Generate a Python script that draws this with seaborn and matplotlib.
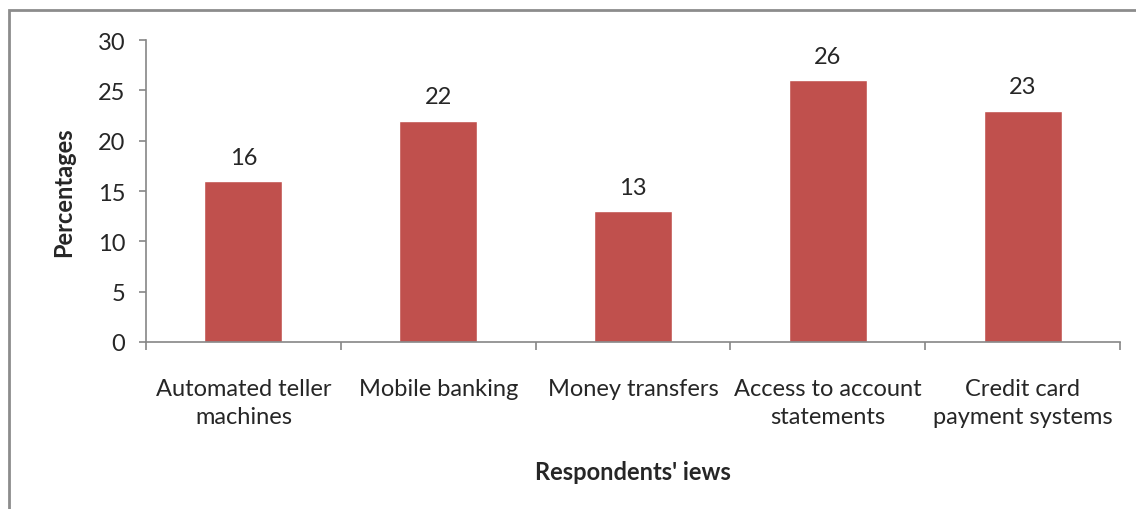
import matplotlib.pyplot as plt
import matplotlib.patches as mpatches
import seaborn as sns
import pandas as pd

# values
categories = ["Automated teller\nmachines", "Mobile banking", "Money transfers",
              "Access to account\nstatements", "Credit card\npayment systems"]
percentages = [16, 22, 13, 26, 23]
y_ticks = [0, 5, 10, 15, 20, 25, 30]

data = pd.DataFrame({"view": categories, "pct": percentages})

sns.set_style("white")
plt.rcParams["font.family"] = ["Lato", "DejaVu Sans"]

fig = plt.figure(figsize=(11.36, 5.10), dpi=100)
ax = fig.add_axes([0.1285, 0.3275, 0.8575, 0.592])

sns.barplot(data=data, x="view", y="pct", color="#C0504D", width=0.4,
            saturation=1, ax=ax)

ax.set_ylim(0, 30)
ax.set_xlim(-0.5, len(categories) - 0.5)
ax.set_yticks(y_ticks)
ax.tick_params(axis="y", labelsize=17, length=5, width=1.2, color="#868686",
               direction="out", left=True, pad=10)
ax.tick_params(axis="x", labelsize=17, length=0, pad=26)
for lbl in ax.get_xticklabels():
    lbl.set_linespacing(1.4)
# minor ticks at category boundaries
ax.set_xticks([i - 0.5 for i in range(len(categories) + 1)], minor=True)
ax.tick_params(axis="x", which="minor", length=6, width=1.2, color="#868686",
               direction="out", bottom=True)

for side in ["top", "right"]:
    ax.spines[side].set_visible(False)
for side in ["left", "bottom"]:
    ax.spines[side].set_color("#868686")
    ax.spines[side].set_linewidth(1.2)

for i, v in enumerate(percentages):
    ax.text(i, v + 1.3, str(v), ha="center", va="bottom", fontsize=17)

ax.set_xlabel("Respondents' iews", fontsize=17, fontweight="bold", labelpad=24)
ax.set_ylabel("Percentages", fontsize=17, fontweight="bold", labelpad=16)

# chart frame (cropped at right and bottom in the reference)
frame = mpatches.Rectangle((9 / 1136, -0.1), 1.2, 1.1 - 10.5 / 510,
                           transform=fig.transFigure, fill=False,
                           edgecolor="#8c8c8c", linewidth=2)
fig.patches.append(frame)

fig.savefig("out.png", dpi=100)
